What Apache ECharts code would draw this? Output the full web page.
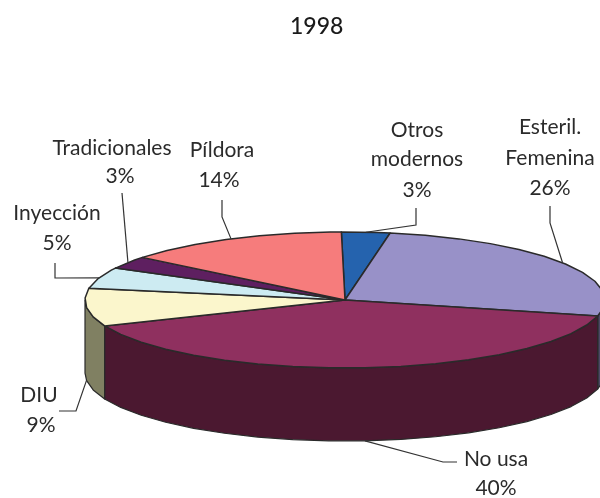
<!DOCTYPE html>
<html>
<head>
<meta charset="utf-8">
<style>html,body{margin:0;padding:0;background:#fff}#c{width:600px;height:498px}</style>
<script src="https://cdn.jsdelivr.net/npm/echarts@6/dist/echarts.min.js"></script>
</head>
<body>
<div id="c"></div>
<script>
const title = '1998';
const categories = ['Otros modernos', 'Esteril. Femenina', 'No usa', 'DIU', 'Inyección', 'Tradicionales', 'Píldora'];
const values = [3, 26, 40, 9, 5, 3, 14];
const labelLines = [['Otros', 'modernos', '3%'], ['Esteril.', 'Femenina', '26%'], ['No usa', '40%'], ['DIU', '9%'], ['Inyección', '5%'], ['Tradicionales', '3%'], ['Píldora', '14%']];
const topColors = ['#2563ae', '#9891c8', '#8f305f', '#fbf6cc', '#cdebf2', '#5e1f60', '#f67c7c'];
const wallColors = ['#173d6c', '#4c4864', '#4b1830', '#808062', '#667', '#301030', '#7b3e3e'];

// layout of the drawing (not data)
const geo = { cx: 345, cy: 300, rx: 260, ry: 68, depth: 73, start: -0.8, step: 8 };
const textPos = [
  [[417, 130], [417, 159], [417, 190]],
  [[550, 127], [550, 158], [550, 188]],
  [[496, 459], [496, 488]],
  [[39, 395], [41, 425]],
  [[57, 213], [57, 243]],
  [[112, 148], [120, 176]],
  [[222, 150], [219, 180]]
];
const elbows = [
  [[416, 225], [416, 208]],
  [[550, 223], [550, 206]],
  [[443, 462], [457, 462]],
  [[76, 411], [59, 411]],
  [[55, 278], [55, 263]],
  [[122, 193]],
  [[222, 217], [222, 200]]
];

const total = values.reduce((a, b) => a + b, 0);
const slices = [];
values.reduce((acc, v) => { const a0 = acc, a1 = acc + v / total * 360; slices.push([a0, a1]); return a1; }, geo.start);

function pt(deg, dy) {
  const t = deg * Math.PI / 180;
  return [geo.cx + geo.rx * Math.sin(t), geo.cy - geo.ry * Math.cos(t) + (dy || 0)];
}
function arc(a0, a1, dy) {
  const pts = [];
  for (let a = a0; a < a1 - 0.01; a += geo.step) pts.push(pt(a, dy));
  pts.push(pt(a1, dy));
  return pts;
}
const common = { coordinateSystem: 'none', silent: true, animation: false, data: values.map(v => [v]) };

const option = {
  animation: false,
  backgroundColor: '#ffffff',
  title: { text: title, left: 285, top: 10,
    textStyle: { fontFamily: 'Lato', fontSize: 23, fontWeight: 500, color: '#1a1a1a' } },
  series: [
    Object.assign({}, common, {
      type: 'custom', name: 'walls', z: 1,
      renderItem(params) {
        const [a0, a1] = slices[params.dataIndex];
        const s = Math.max(a0, 90), e = Math.min(a1, 270);
        if (e <= s) return { type: 'group', children: [] };
        const points = arc(s, e, 0).concat(arc(s, e, geo.depth).reverse());
        return { type: 'polygon', shape: { points },
          style: { fill: wallColors[params.dataIndex], stroke: '#2a2a2a', lineWidth: 1.2, lineJoin: 'round' } };
      }
    }),
    Object.assign({}, common, {
      type: 'custom', name: 'tops', z: 2,
      renderItem(params) {
        const [a0, a1] = slices[params.dataIndex];
        const points = [[geo.cx, geo.cy]].concat(arc(a0, a1, 0));
        return { type: 'polygon', shape: { points },
          style: { fill: topColors[params.dataIndex], stroke: '#2a2a2a', lineWidth: 1.5, lineJoin: 'round' } };
      }
    }),
    Object.assign({}, common, {
      type: 'custom', name: 'labels', z: 3,
      renderItem(params) {
        const i = params.dataIndex;
        const mid = (slices[i][0] + slices[i][1]) / 2;
        const front = Math.cos(mid * Math.PI / 180) < 0;
        const anchor = pt(mid, front ? geo.depth : 0);
        const children = [{ type: 'polyline', shape: { points: [anchor].concat(elbows[i]) },
          style: { fill: 'none', stroke: '#333', lineWidth: 1.2 } }];
        labelLines[i].forEach((t, j) => children.push({ type: 'text',
          style: { text: t, x: textPos[i][j][0], y: textPos[i][j][1], align: 'center', verticalAlign: 'middle',
            font: '21px Lato', fill: '#2b2b2b' } }));
        return { type: 'group', children };
      }
    })
  ]
};
echarts.init(document.getElementById('c'), null, { renderer: 'canvas' }).setOption(option);
</script>
</body>
</html>
